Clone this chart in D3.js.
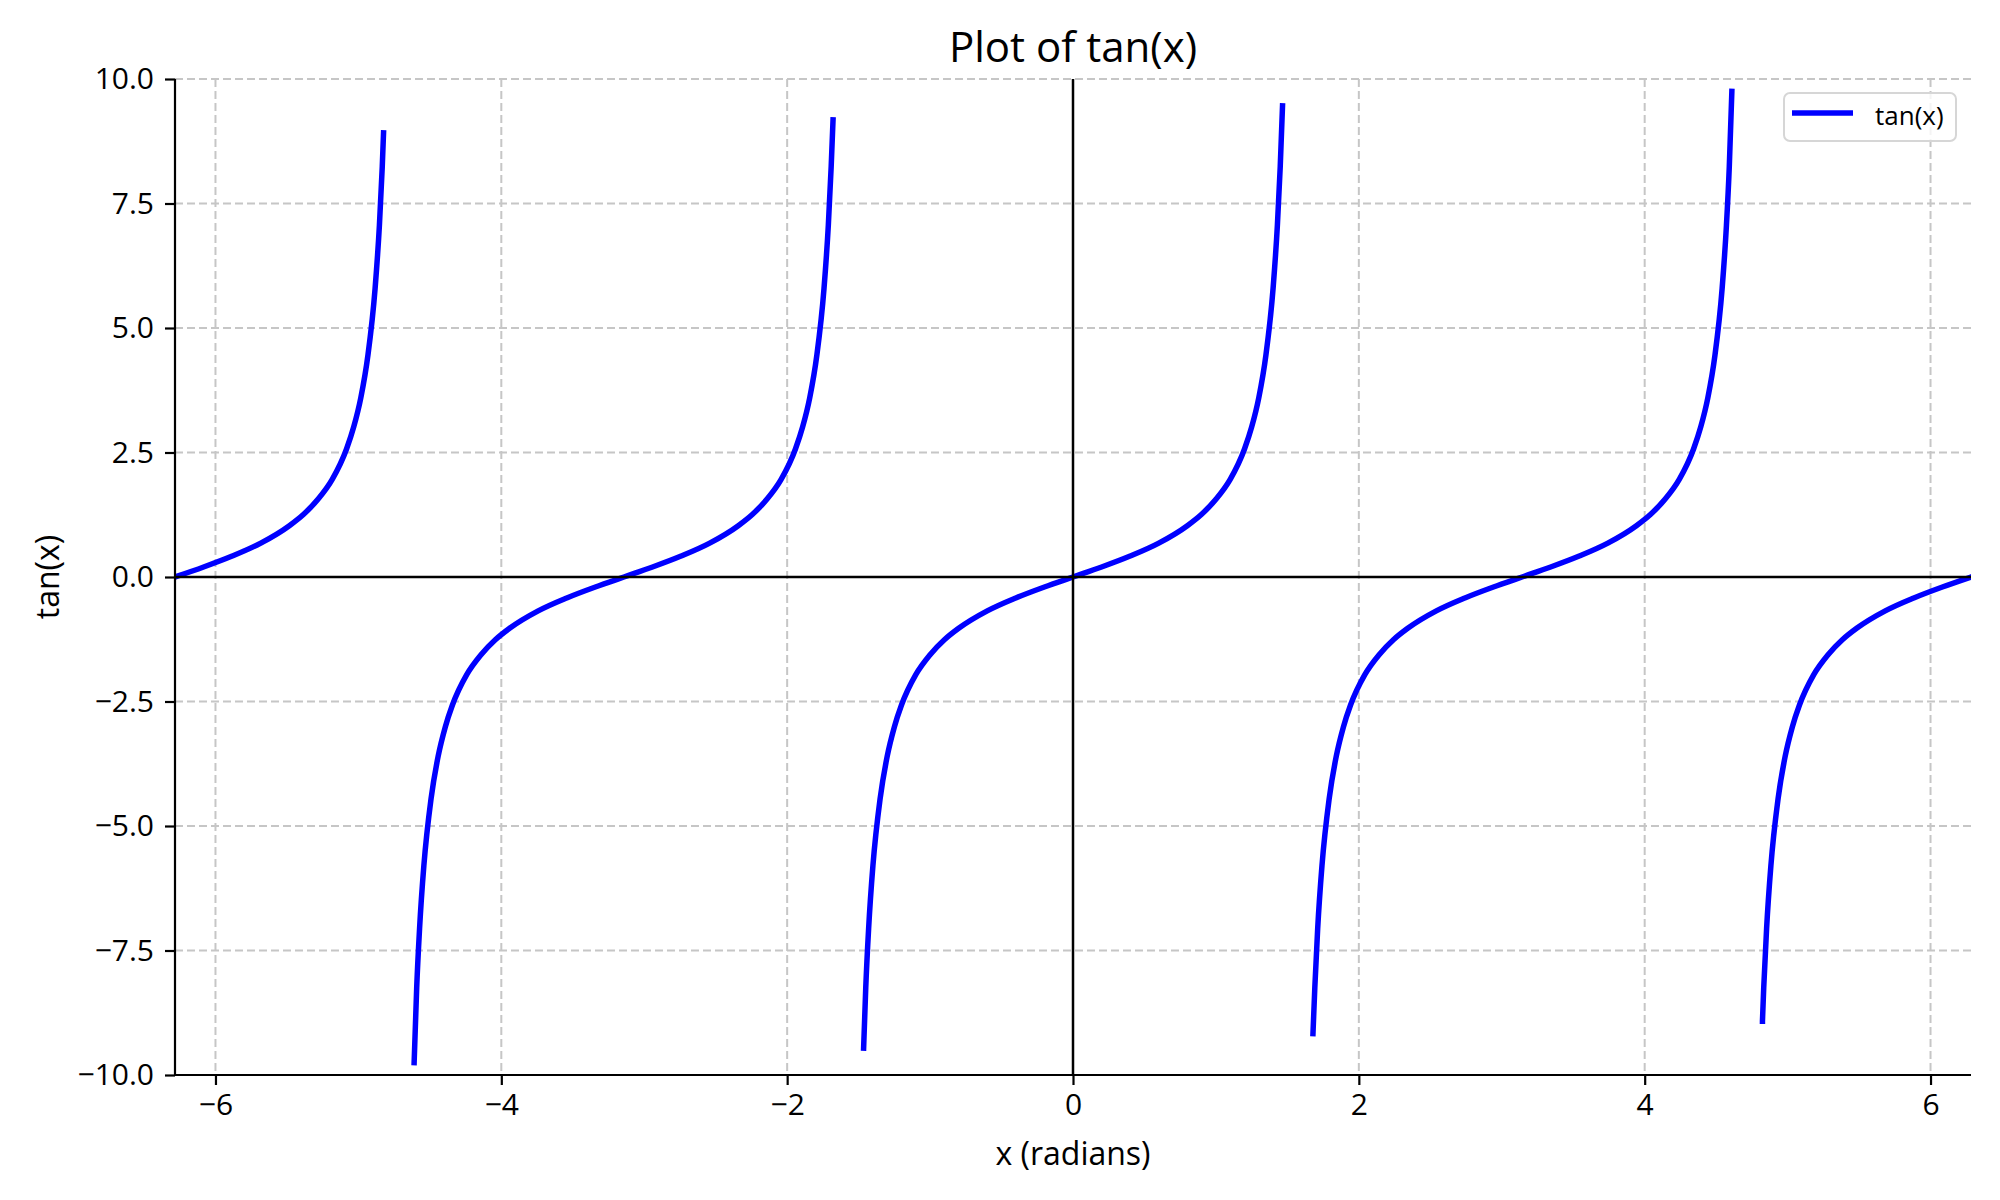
<!DOCTYPE html>
<html lang="en">
<head>
<meta charset="utf-8">
<title>Plot of tan(x)</title>
<script src="https://d3js.org/d3.v7.min.js"></script>
<style>
  body { margin: 0; background: #fff; }
  svg text { font-family: "Open Sans", sans-serif; fill: #000; }
</style>
</head>
<body>
<div id="chart"></div>
<script>

// tick values
var xTicks = [-6, -4, -2, 0, 2, 4, 6];
var yTicks = [-10, -7.5, -5, -2.5, 0, 2.5, 5, 7.5, 10];

// curve pieces, [x, tan(x)]
var branch1 = [[-6.283, 0.00], [-6.083, 0.20], [-5.883, 0.42], [-5.683, 0.68], [-5.483, 1.03],
  [-5.383, 1.26], [-5.283, 1.56], [-5.183, 1.96], [-5.083, 2.57], [-5.033, 3.01], [-4.983, 3.60],
  [-4.933, 4.46], [-4.883, 5.80], [-4.853, 7.06], [-4.833, 8.24], [-4.824, 8.92]];

var branch2 = [[-4.610, -9.75], [-4.592, -8.24], [-4.572, -7.06], [-4.542, -5.80], [-4.492, -4.46],
  [-4.442, -3.60], [-4.392, -3.01], [-4.342, -2.57], [-4.242, -1.96], [-4.142, -1.56], [-4.042, -1.26],
  [-3.942, -1.03], [-3.742, -0.68], [-3.542, -0.42], [-3.342, -0.20], [-3.142, 0.00], [-2.942, 0.20],
  [-2.742, 0.42], [-2.542, 0.68], [-2.342, 1.03], [-2.242, 1.26], [-2.142, 1.56], [-2.042, 1.96],
  [-1.942, 2.57], [-1.892, 3.01], [-1.842, 3.60], [-1.792, 4.46], [-1.742, 5.80], [-1.712, 7.06],
  [-1.692, 8.24], [-1.679, 9.18]];

var branch3 = [[-1.465, -9.46], [-1.450, -8.24], [-1.430, -7.06], [-1.400, -5.80], [-1.350, -4.46],
  [-1.300, -3.60], [-1.250, -3.01], [-1.200, -2.57], [-1.100, -1.96], [-1.000, -1.56], [-0.900, -1.26],
  [-0.800, -1.03], [-0.600, -0.68], [-0.400, -0.42], [-0.200, -0.20], [0.000, 0.00], [0.200, 0.20],
  [0.400, 0.42], [0.600, 0.68], [0.800, 1.03], [0.900, 1.26], [1.000, 1.56], [1.100, 1.96],
  [1.200, 2.57], [1.250, 3.01], [1.300, 3.60], [1.350, 4.46], [1.400, 5.80], [1.430, 7.06],
  [1.450, 8.24], [1.466, 9.46]];

var branch4 = [[1.679, -9.17], [1.692, -8.24], [1.712, -7.06], [1.742, -5.80], [1.792, -4.46],
  [1.842, -3.60], [1.892, -3.01], [1.942, -2.57], [2.042, -1.96], [2.142, -1.56], [2.242, -1.26],
  [2.342, -1.03], [2.542, -0.68], [2.742, -0.42], [2.942, -0.20], [3.142, 0.00], [3.342, 0.20],
  [3.542, 0.42], [3.742, 0.68], [3.942, 1.03], [4.042, 1.26], [4.142, 1.56], [4.242, 1.96],
  [4.342, 2.57], [4.392, 3.01], [4.442, 3.60], [4.492, 4.46], [4.542, 5.80], [4.572, 7.06],
  [4.592, 8.24], [4.610, 9.75]];

var branch5 = [[4.824, -8.92], [4.833, -8.24], [4.853, -7.06], [4.883, -5.80], [4.933, -4.46],
  [4.983, -3.60], [5.033, -3.01], [5.083, -2.57], [5.183, -1.96], [5.283, -1.56], [5.383, -1.26],
  [5.483, -1.03], [5.683, -0.68], [5.883, -0.42], [6.083, -0.20], [6.283, 0.00]];

var branches = [branch1, branch2, branch3, branch4, branch5];

// plot box in page pixels
var W = 2000, H = 1200;
var plotL = 175, plotR = 1971, plotT = 79, plotB = 1075;

var svg = d3.select("#chart").append("svg")
    .attr("width", W)
    .attr("height", H);

var x = d3.scaleLinear().domain([-2 * Math.PI, 2 * Math.PI]).range([plotL, plotR]);
var y = d3.scaleLinear().domain([-10, 10]).range([plotB, plotT]);

var minus = function(s) { return s.replace("-", "\u2212"); };

svg.append("defs").append("clipPath").attr("id", "plotclip")
  .append("rect")
    .attr("x", plotL).attr("y", plotT)
    .attr("width", plotR - plotL).attr("height", plotB - plotT);

// grid
var grid = svg.append("g");
grid.selectAll(".vgrid")
  .data(xTicks)
  .enter().append("line")
    .attr("x1", function(d) { return x(d); })
    .attr("x2", function(d) { return x(d); })
    .attr("y1", plotT).attr("y2", plotB)
    .attr("stroke", "#c6c6c6")
    .attr("stroke-width", 2)
    .attr("stroke-dasharray", "8,4");
grid.selectAll(".hgrid")
  .data(yTicks)
  .enter().append("line")
    .attr("y1", function(d) { return y(d); })
    .attr("y2", function(d) { return y(d); })
    .attr("x1", plotL).attr("x2", plotR)
    .attr("stroke", "#c6c6c6")
    .attr("stroke-width", 2)
    .attr("stroke-dasharray", "8,4");

// tan curve
var line = d3.line()
  .x(function(d) { return x(d[0]); })
  .y(function(d) { return y(d[1]); })
  .curve(d3.curveMonotoneX);

svg.append("g").attr("clip-path", "url(#plotclip)")
  .selectAll("path")
  .data(branches)
  .enter().append("path")
    .attr("d", line)
    .attr("fill", "none")
    .attr("stroke", "#0000ff")
    .attr("stroke-width", 5.5)
    .attr("stroke-linecap", "square");

// zero lines
svg.append("line")
  .attr("x1", plotL).attr("x2", plotR)
  .attr("y1", y(0)).attr("y2", y(0))
  .attr("stroke", "#000").attr("stroke-width", 2.5);
svg.append("line")
  .attr("x1", x(0)).attr("x2", x(0))
  .attr("y1", plotT).attr("y2", plotB)
  .attr("stroke", "#000").attr("stroke-width", 2.5);

// axes
var xAxis = svg.append("g")
  .attr("transform", "translate(0," + plotB + ")")
  .call(d3.axisBottom(x).tickValues(xTicks).tickSize(10).tickPadding(9)
    .tickFormat(function(d) { return minus(d3.format("d")(d)); }));
var yAxis = svg.append("g")
  .attr("transform", "translate(" + plotL + ",0)")
  .call(d3.axisLeft(y).tickValues(yTicks).tickSize(10).tickPadding(11)
    .tickFormat(function(d) { return minus(d3.format(".1f")(d)); }));

[xAxis, yAxis].forEach(function(a) {
  a.select(".domain").attr("stroke", "#000").attr("stroke-width", 2.2);
  a.selectAll(".tick line").attr("stroke", "#000").attr("stroke-width", 2.2);
  a.selectAll(".tick text")
    .style("font-family", "'Open Sans', sans-serif")
    .style("font-size", "30px")
    .attr("fill", "#000");
});
xAxis.select(".domain").attr("d", "M" + plotL + ",0H" + plotR);
yAxis.select(".domain").attr("d", "M0," + plotT + "V" + plotB);

// titles
svg.append("text")
  .attr("x", (plotL + plotR) / 2)
  .attr("y", 45)
  .attr("text-anchor", "middle")
  .attr("dominant-baseline", "central")
  .style("font-size", "42px")
  .text("Plot of tan(x)");

svg.append("text")
  .attr("x", (plotL + plotR) / 2)
  .attr("y", 1152)
  .attr("text-anchor", "middle")
  .attr("dominant-baseline", "central")
  .style("font-size", "32px")
  .text("x (radians)");

svg.append("text")
  .attr("transform", "translate(46," + ((plotT + plotB) / 2) + ") rotate(-90)")
  .attr("text-anchor", "middle")
  .attr("dominant-baseline", "central")
  .style("font-size", "32px")
  .text("tan(x)");

// legend
var legend = svg.append("g");
legend.append("rect")
  .attr("x", 1784).attr("y", 93)
  .attr("width", 172).attr("height", 48)
  .attr("rx", 6)
  .attr("fill", "#fff").attr("fill-opacity", 0.8)
  .attr("stroke", "#d6d6d6").attr("stroke-width", 2);
legend.append("line")
  .attr("x1", 1792).attr("x2", 1853)
  .attr("y1", 113).attr("y2", 113)
  .attr("stroke", "#0000ff").attr("stroke-width", 5.5);
legend.append("text")
  .attr("x", 1875).attr("y", 115)
  .attr("dominant-baseline", "central")
  .style("font-size", "26px")
  .text("tan(x)");

</script>
</body>
</html>
